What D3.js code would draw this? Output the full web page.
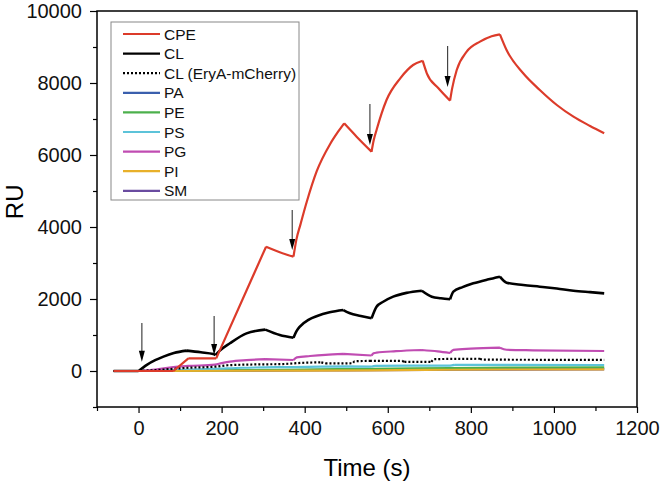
<!DOCTYPE html>
<html>
<head>
<meta charset="utf-8">
<script src="https://cdn.jsdelivr.net/npm/d3@7"></script>
<style>
  body { margin: 0; background: #fff; }
  text { font-family: "Liberation Sans", Arial, sans-serif; }
</style>
</head>
<body>
<div id="chart"></div>
<script>
// series, [time (s), RU]
var cpe = [[-60,0],[0,0],[84,0],[120,352],[187,352],[307,3453],[340,3300],[373,3175],[380,3650],[390,4080],[405,4700],[429,5550],[461,6300],[480,6640],[495,6880],[525,6510],[561,6092],[566,6400],[573,6694],[585,7150],[597,7528],[630,8130],[661,8500],[684,8620],[694,8270],[722,7852],[750,7509],[755,7850],[766,8361],[790,8870],[822,9148],[850,9300],[870,9352],[886,8917],[926,8270],[966,7806],[1007,7389],[1047,7065],[1087,6806],[1121,6602]];
var cl = [[-60,0],[0,0],[20,170],[40,300],[60,400],[85,500],[116,565],[150,520],[180,470],[185,440],[195,560],[220,770],[260,1046],[305,1150],[340,1000],[373,925],[380,1100],[389,1240],[410,1430],[430,1530],[460,1630],[493,1694],[509,1602],[535,1530],[561,1463],[573,1787],[590,1930],[613,2065],[645,2170],[682,2231],[706,2065],[728,2020],[750,1991],[758,2203],[780,2330],[806,2435],[840,2540],[870,2620],[886,2453],[926,2390],[966,2342],[1007,2290],[1047,2231],[1087,2190],[1121,2157]];
var clEry = [[-60,0],[0,0],[60,40],[120,90],[185,120],[215,160],[300,185],[340,190],[400,230],[440,240],[450,210],[515,215],[520,270],[557,280],[635,280],[640,255],[705,255],[712,330],[822,340],[830,315],[1121,310]];
var pa = [[-60,0],[0,0],[300,20],[600,45],[900,60],[1121,70]];
var pe = [[-60,0],[0,0],[200,20],[400,40],[560,60],[750,80],[900,95],[1121,100]];
var ps = [[-60,0],[0,0],[100,30],[185,60],[250,90],[373,110],[500,130],[560,120],[570,145],[750,150],[760,170],[1121,167]];
var pg = [[-60,0],[0,0],[40,40],[84,110],[120,140],[184,175],[200,220],[220,259],[260,300],[305,330],[373,306],[381,380],[413,417],[450,450],[493,475],[561,430],[566,490],[573,509],[620,550],[682,583],[720,545],[750,500],[758,585],[800,620],[870,648],[886,590],[950,575],[1121,555]];
var pi = [[-60,0],[0,0],[400,10],[560,20],[750,35],[1121,46]];
var sm = [[-60,0],[0,0],[400,15],[800,35],[1121,45]];

var names = ["CPE", "CL", "CL (EryA-mCherry)", "PA", "PE", "PS", "PG", "PI", "SM"];
var colors = ["#dc3b2a", "#000000", "#000000", "#3a5fad", "#4cb04c", "#5cc3d9", "#c04cb2", "#e8b02a", "#6a4ca0"];
var seriesData = [cpe, cl, clEry, pa, pe, ps, pg, pi, sm];
var drawOrder = [8, 3, 4, 5, 7, 6, 2, 1, 0];

// injection arrows: time, top RU, tip RU
var arrowT = [8, 182, 370, 557, 744];
var arrowTop = [1333, 1528, 4472, 7417, 9028];
var arrowTip = [258, 444, 3361, 6278, 7889];

var xTicks = [0, 200, 400, 600, 800, 1000, 1200];
var yTicks = [0, 2000, 4000, 6000, 8000, 10000];

var margin = { top: 11, left: 97, right: 24, bottom: 78 },
	width = 661 - margin.left - margin.right,
	height = 485 - margin.top - margin.bottom;

var svg = d3.select("#chart")
			.append("svg")
			.attr("width", 661)
			.attr("height", 485)
			.append("g")
			.attr("transform", "translate(" + margin.left + "," + margin.top + ")");

var x = d3.scaleLinear().domain([-100, 1200]).range([0, width]);
var y = d3.scaleLinear().domain([-1000, 10000]).range([height, 0]);

// minor ticks
svg.append("g")
	.attr("transform", "translate(0," + height + ")")
	.call(d3.axisBottom(x).tickValues(d3.range(-100, 1201, 200)).tickSize(4).tickFormat(""))
	.call(g => g.select(".domain").remove())
	.selectAll("line").attr("stroke-width", 1.2);
svg.append("g")
	.call(d3.axisLeft(y).tickValues(d3.range(-1000, 10001, 2000)).tickSize(4).tickFormat(""))
	.call(g => g.select(".domain").remove())
	.selectAll("line").attr("stroke-width", 1.2);

// major ticks
var xa = svg.append("g")
	.attr("transform", "translate(0," + height + ")")
	.call(d3.axisBottom(x).tickValues(xTicks).tickSize(6).tickPadding(8).tickFormat(d3.format("d")));
xa.select(".domain").remove();
xa.selectAll("line").attr("stroke-width", 1.2);
xa.selectAll("text").attr("font-size", 20).attr("fill", "#111");

var ya = svg.append("g")
	.call(d3.axisLeft(y).tickValues(yTicks).tickSize(7).tickPadding(8).tickFormat(d3.format("d")));
ya.select(".domain").remove();
ya.selectAll("line").attr("stroke-width", 1.2);
ya.selectAll("text").attr("font-size", 20).attr("fill", "#111");

var line = d3.line()
	.x(d => x(d[0]))
	.y(d => y(d[1]))
	.curve(d3.curveMonotoneX);

// split a series where it changes direction so the peaks stay sharp
function pieces(data) {
	var out = [], cur = [data[0]], dir = null;
	for (var i = 1; i < data.length; i++) {
		var d = Math.sign(data[i][1] - data[i-1][1]);
		if (dir !== null && d !== dir) {
			out.push(cur);
			cur = [data[i-1]];
		}
		cur.push(data[i]);
		dir = d;
	}
	out.push(cur);
	return out;
}

drawOrder.forEach(function(i) {
	var p = pieces(seriesData[i]);
	svg.append("path")
		.attr("fill", "none")
		.attr("stroke", colors[i])
		.attr("stroke-width", i == 1 ? 2.6 : 2.2)
		.attr("stroke-linejoin", "miter")
		.attr("stroke-dasharray", i == 2 ? "2,2" : null)
		.attr("d", p.map(s => line(s)).join(""));
});

// arrows
arrowT.forEach(function(t, i) {
	var ax = x(t), y0 = y(arrowTop[i]), y1 = y(arrowTip[i]);
	svg.append("line")
		.attr("x1", ax).attr("x2", ax)
		.attr("y1", y0).attr("y2", y1 - 8)
		.attr("stroke", "#444").attr("stroke-width", 1.2);
	svg.append("path")
		.attr("d", "M" + (ax - 3) + "," + (y1 - 11) + "L" + (ax + 3) + "," + (y1 - 11) + "L" + ax + "," + y1 + "Z")
		.attr("fill", "#000");
});

// frame
svg.append("rect")
	.attr("width", width).attr("height", height)
	.attr("fill", "none").attr("stroke", "#000").attr("stroke-width", 1.5);

// legend
var lg = svg.append("g").attr("transform", "translate(14,11)");
lg.append("rect")
	.attr("width", 188).attr("height", 178)
	.attr("fill", "#fff").attr("stroke", "#888").attr("stroke-width", 1);
names.forEach(function(n, i) {
	var ly = 12 + i * 19.6;
	lg.append("line")
		.attr("x1", 12).attr("x2", 49)
		.attr("y1", ly).attr("y2", ly)
		.attr("stroke", colors[i])
		.attr("stroke-width", 2.2)
		.attr("stroke-dasharray", i == 2 ? "2,2" : null);
	lg.append("text")
		.attr("x", 53).attr("y", ly + 5.5)
		.attr("font-size", 15.5)
		.attr("fill", "#111")
		.text(n);
});

// axis titles
svg.append("text")
	.attr("x", width / 2).attr("y", height + 69)
	.attr("text-anchor", "middle")
	.attr("font-size", 24)
	.text("Time (s)");
svg.append("text")
	.attr("transform", "translate(" + (-74) + "," + (y(4700)) + ") rotate(-90)")
	.attr("text-anchor", "middle")
	.attr("font-size", 24)
	.text("RU");
</script>
</body>
</html>
